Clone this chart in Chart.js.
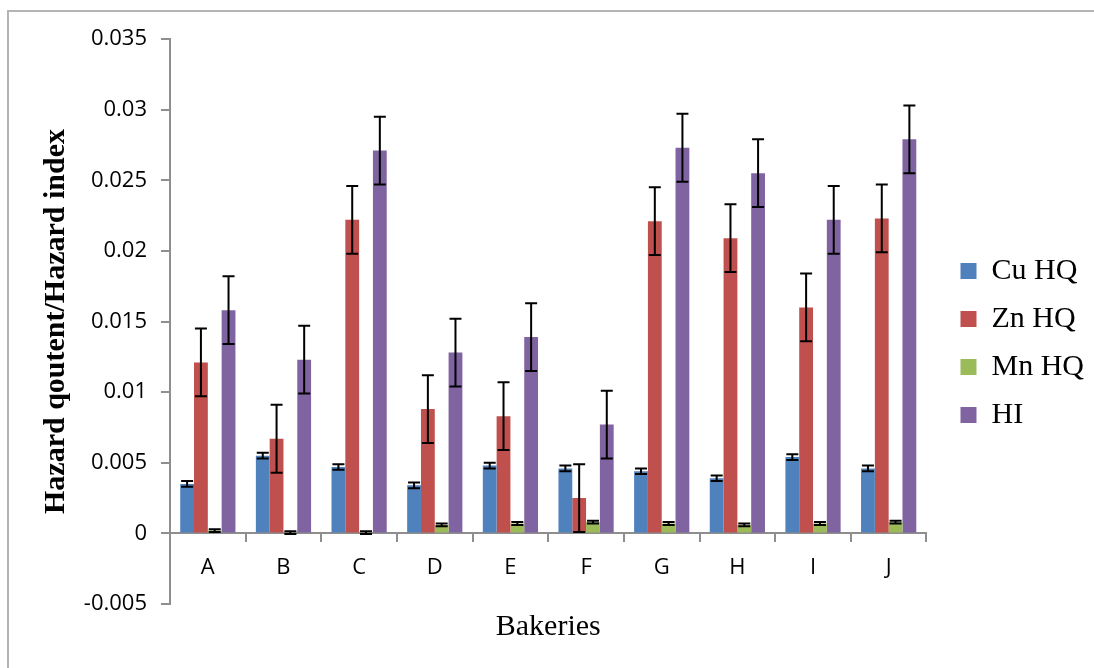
<!DOCTYPE html>
<html>
<head>
<meta charset="utf-8">
<script src="https://cdn.jsdelivr.net/npm/chart.js@4.4.1/dist/chart.umd.min.js"></script>
<style>
  body { margin: 0; background: #fff; }
  #wrap { position: relative; width: 1094px; height: 668px; }
  #frame { position: absolute; left: 7px; top: 10px; right: 0; bottom: 0;
           border-left: 2px solid #b4b4b4; border-top: 2px solid #b4b4b4; }
  canvas { position: absolute; left: 0; top: 0; }
</style>
</head>
<body>
<div id="wrap">
  <div id="frame"></div>
  <canvas id="myChart" width="1094" height="668"></canvas>
</div>
<script>
// data
const bakeries = ['A', 'B', 'C', 'D', 'E', 'F', 'G', 'H', 'I', 'J'];
const cuHQ = [0.0035, 0.0055, 0.0047, 0.0034, 0.0048, 0.0046, 0.0044, 0.0039, 0.0054, 0.0046];
const znHQ = [0.0121, 0.0067, 0.0222, 0.0088, 0.0083, 0.0025, 0.0221, 0.0209, 0.0160, 0.0223];
const mnHQ = [0.0002, 0.00005, 0.00005, 0.0006, 0.0007, 0.0008, 0.0007, 0.0006, 0.0007, 0.0008];
const hi   = [0.0158, 0.0123, 0.0271, 0.0128, 0.0139, 0.0077, 0.0273, 0.0255, 0.0222, 0.0279];
// error bar half-lengths
const cuErr = [0.0002, 0.0002, 0.0002, 0.0002, 0.0002, 0.0002, 0.0002, 0.0002, 0.0002, 0.0002];
const znErr = [0.0024, 0.0024, 0.0024, 0.0024, 0.0024, 0.0024, 0.0024, 0.0024, 0.0024, 0.0024];
const mnErr = [0.0001, 0.0001, 0.0001, 0.0001, 0.0001, 0.0001, 0.0001, 0.0001, 0.0001, 0.0001];
const hiErr = [0.0024, 0.0024, 0.0024, 0.0024, 0.0024, 0.0024, 0.0024, 0.0024, 0.0024, 0.0024];

const axisGray = '#8e8e8e';
const tickFont = { family: 'Open Sans', size: 22 };

// error bars drawn over the bars
const errorBars = {
  id: 'errorBars',
  afterDatasetsDraw(chart) {
    const { ctx, scales: { y } } = chart;
    ctx.save();
    ctx.strokeStyle = '#000';
    ctx.lineWidth = 2;
    chart.data.datasets.forEach((ds, i) => {
      chart.getDatasetMeta(i).data.forEach((bar, j) => {
        const v = ds.data[j], e = ds.errors[j];
        const top = y.getPixelForValue(v + e);
        const bot = y.getPixelForValue(v - e);
        const x = bar.x;
        ctx.beginPath();
        ctx.moveTo(x, top); ctx.lineTo(x, bot);
        ctx.moveTo(x - 6, top); ctx.lineTo(x + 6, top);
        ctx.moveTo(x - 6, bot); ctx.lineTo(x + 6, bot);
        ctx.stroke();
      });
    });
    ctx.restore();
  }
};

const data = {
  labels: bakeries,
  datasets: [
    { label: 'Cu HQ', data: cuHQ, errors: cuErr, backgroundColor: '#4f81bd' },
    { label: 'Zn HQ', data: znHQ, errors: znErr, backgroundColor: '#c0504d' },
    { label: 'Mn HQ', data: mnHQ, errors: mnErr, backgroundColor: '#9bbb59' },
    { label: 'HI', data: hi, errors: hiErr, backgroundColor: '#8064a2' }
  ]
};

const config = {
  type: 'bar',
  data,
  options: {
    responsive: false,
    animation: false,
    devicePixelRatio: 1,
    categoryPercentage: 0.73,
    barPercentage: 1.0,
    layout: { padding: { left: 0, top: 39, right: 0, bottom: 21 } },
    plugins: {
      tooltip: { enabled: false },
      legend: {
        position: 'right',
        labels: {
          font: { family: 'Liberation Serif', size: 30 },
          color: '#000',
          boxWidth: 16,
          boxHeight: 16,
          padding: 18
        }
      }
    },
    scales: {
      x: {
        position: { y: 0 },
        offset: true,
        grid: { drawOnChartArea: false, drawTicks: true, tickLength: 8, color: axisGray, lineWidth: 2, offset: true },
        border: { color: axisGray, width: 2 },
        ticks: { font: tickFont, color: '#000', padding: 13, maxRotation: 0 },
        title: {
          display: true,
          text: 'Bakeries',
          color: '#000',
          font: { family: 'Liberation Serif', size: 30 },
          padding: { top: 0, bottom: -69 }
        },
        afterFit(scale) { scale.height = 43; }
      },
      y: {
        min: -0.005,
        max: 0.035,
        grid: { drawOnChartArea: false, drawTicks: true, tickLength: 9, color: axisGray, lineWidth: 2 },
        border: { color: axisGray, width: 2 },
        ticks: {
          stepSize: 0.005,
          font: tickFont,
          color: '#000',
          padding: 14,
          callback: v => String(Number(v.toFixed(4)))
        },
        title: {
          display: true,
          text: 'Hazard qoutent/Hazard index',
          color: '#000',
          font: { family: 'Liberation Serif', size: 30, weight: 'bold' },
          padding: { top: 38, bottom: 0 }
        },
        afterFit(scale) { scale.width = 170; }
      },
      // empty boxes that keep space round the plot
      gap: {
        type: 'linear',
        axis: 'y',
        position: 'right',
        ticks: { display: false },
        grid: { display: false },
        border: { display: false },
        afterFit(scale) { scale.width = 16; }
      },
      gapBottom: {
        type: 'linear',
        axis: 'x',
        position: 'bottom',
        ticks: { display: false },
        grid: { display: false },
        border: { display: false },
        afterFit(scale) { scale.height = 43; }
      }
    }
  },
  plugins: [errorBars]
};

const myChart = new Chart(document.getElementById('myChart'), config);
</script>
</body>
</html>
